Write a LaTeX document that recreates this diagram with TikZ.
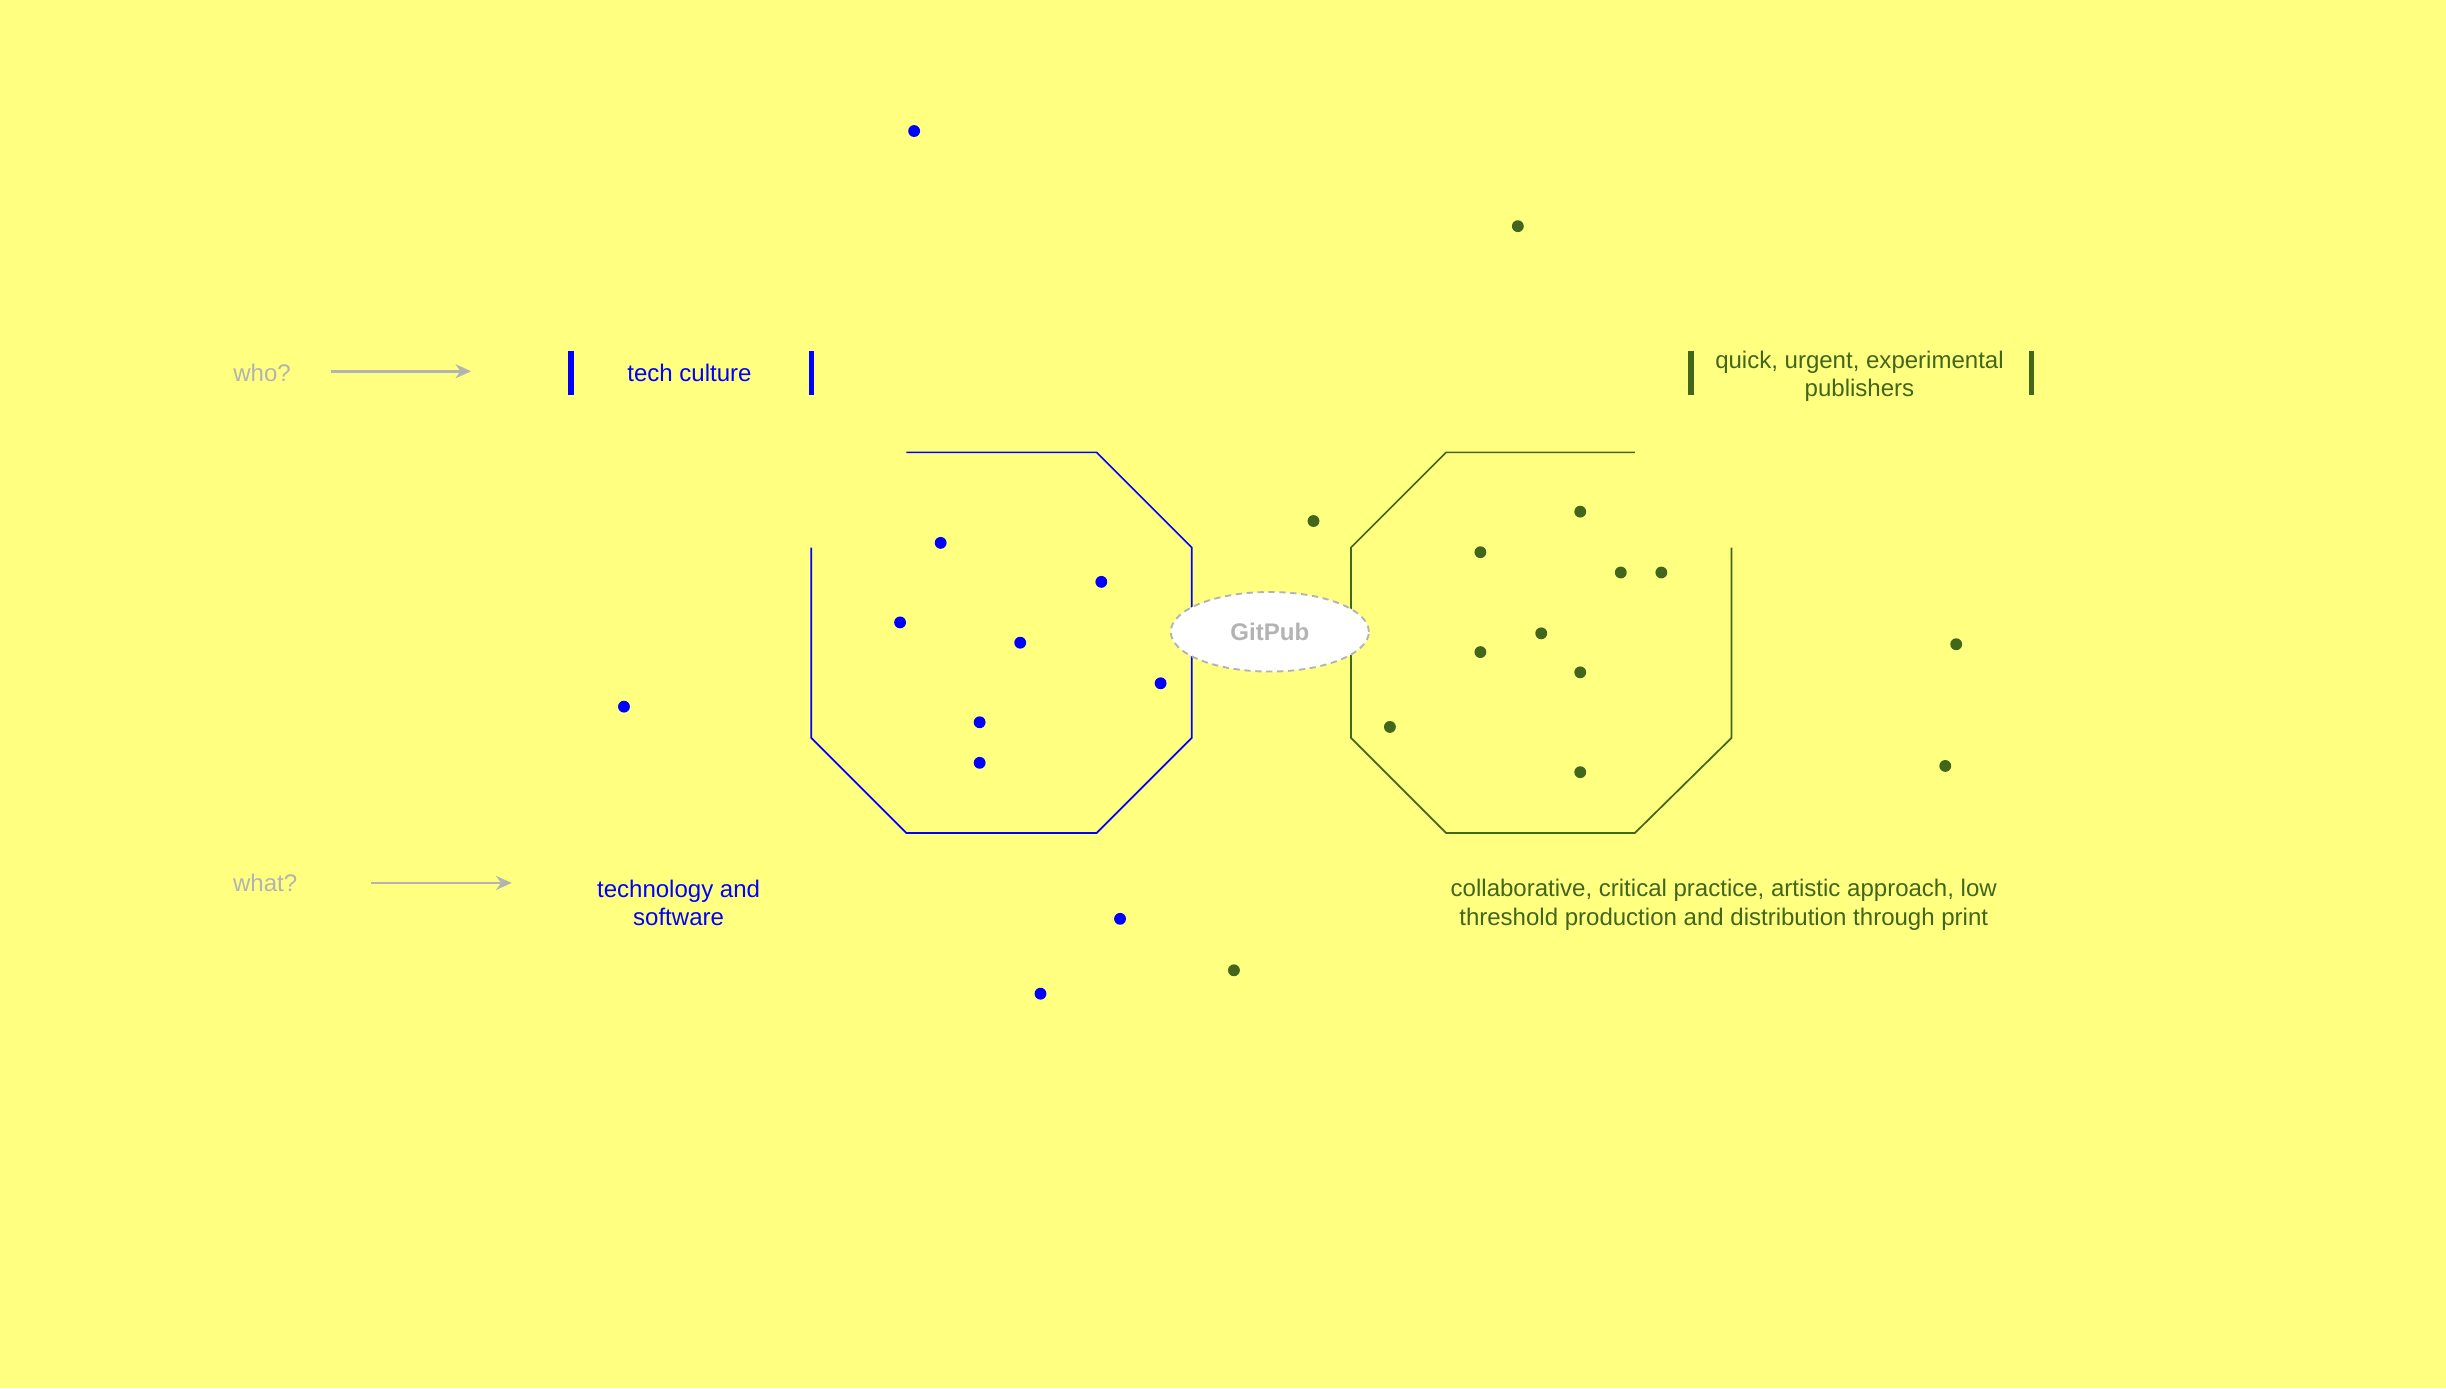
\documentclass[tikz,border=0pt]{standalone}
\usepackage{fontspec}
\setmainfont{Liberation Sans}
\usepackage{xcolor}
\usepackage{tikz}
\usetikzlibrary{positioning, arrows.meta, shapes.geometric}
\definecolor{paper}{HTML}{FFFF80}
\definecolor{tech}{HTML}{0000FF}
\definecolor{pub}{HTML}{41661C}
\definecolor{ask}{HTML}{B3B3B3}
\tikzset{Text/.style={inner sep=0pt, align=center, font=\fontsize{15.4}{18}\selectfont}}
\tikzset{Tech/.append style={text=tech}}
\tikzset{Pub/.append style={text=pub}}
\tikzset{Q/.style={Text, text=ask}}
\tikzset{Q Edge/.style={draw=ask, line width=1.6pt, -{Stealth[length=10pt, width=9pt]}}}
\tikzset{Bar/.style={line width=3.3pt}}
\tikzset{Hull/.style={line width=1.1pt, line join=miter}}
\tikzset{BD/.style={draw=none, fill=tech, inner sep=0pt, circle, minimum size=7.6pt}}
\tikzset{GD/.style={draw=none, fill=pub, inner sep=0pt, circle, minimum size=7.6pt}}

\begin{document}
\begin{tikzpicture}[x=1pt, y=-1pt]
\fill[paper] (0,0) rectangle (1568,890);
\useasboundingbox (0,0) rectangle (1568,890);

% left hand labels
\node[Q] (who) at (168,239) {who?};
\node[Q] (what) at (170,566) {what?};
\coordinate (whoA) at (212,238);
\coordinate (whoB) at (302,238);
\coordinate (whatA) at (238,566);
\coordinate (whatB) at (328,566);
\draw[Q Edge] (whoA) -- (whoB);
\draw[Q Edge] (whatA) -- (whatB);

% tech side
\node[Text,Tech] (culture) at (442,239) {tech culture};
\draw[Bar, tech] (366,225) -- (366,253);
\draw[Bar, tech] (520,225) -- (520,253);
\node[Text,Tech] (software) at (435,579) {technology and\\software};
\draw[Hull, tech] (520,351) -- (520,473) -- (581,534) -- (703,534) -- (764,473)
  -- (764,351) -- (703,290) -- (581,290);

% publishing side
\node[Text,Pub] (publishers) at (1192,241) {quick, urgent, experimental\\publishers};
\draw[Bar, pub] (1084,225) -- (1084,253);
\draw[Bar, pub] (1302,225) -- (1302,253);
\node[Text,Pub] (practice) at (1105,580) {collaborative, critical practice, artistic approach, low\\threshold production and distribution through print};
\draw[Hull, pub] (1110,351) -- (1110,473) -- (1048,534) -- (927,534) -- (866,473)
  -- (866,351) -- (927,290) -- (1048,290);

% blue dots
\node[BD] (b1) at (586,84) {};
\node[BD] (b2) at (603,348) {};
\node[BD] (b3) at (706,373) {};
\node[BD] (b4) at (577,399) {};
\node[BD] (b5) at (654,412) {};
\node[BD] (b6) at (744,438) {};
\node[BD] (b7) at (628,463) {};
\node[BD] (b8) at (628,489) {};
\node[BD] (b9) at (400,453) {};
\node[BD] (b10) at (718,589) {};
\node[BD] (b11) at (667,637) {};

% green dots
\node[GD] (g1) at (973,145) {};
\node[GD] (g2) at (842,334) {};
\node[GD] (g3) at (1013,328) {};
\node[GD] (g4) at (949,354) {};
\node[GD] (g5) at (1039,367) {};
\node[GD] (g6) at (1065,367) {};
\node[GD] (g7) at (988,406) {};
\node[GD] (g8) at (949,418) {};
\node[GD] (g9) at (1013,431) {};
\node[GD] (g10) at (891,466) {};
\node[GD] (g11) at (1013,495) {};
\node[GD] (g12) at (1254,413) {};
\node[GD] (g13) at (1247,491) {};
\node[GD] (g14) at (791,622) {};

% the hub
\node[ellipse, draw=ask, line width=1.2pt, dash pattern=on 4pt off 3pt, fill=white,
  minimum width=127pt, minimum height=51pt, inner sep=0pt,
  font=\fontsize{15.4}{18}\selectfont\bfseries, text=ask] (gitpub) at (814,405) {GitPub};
\end{tikzpicture}
\end{document}
